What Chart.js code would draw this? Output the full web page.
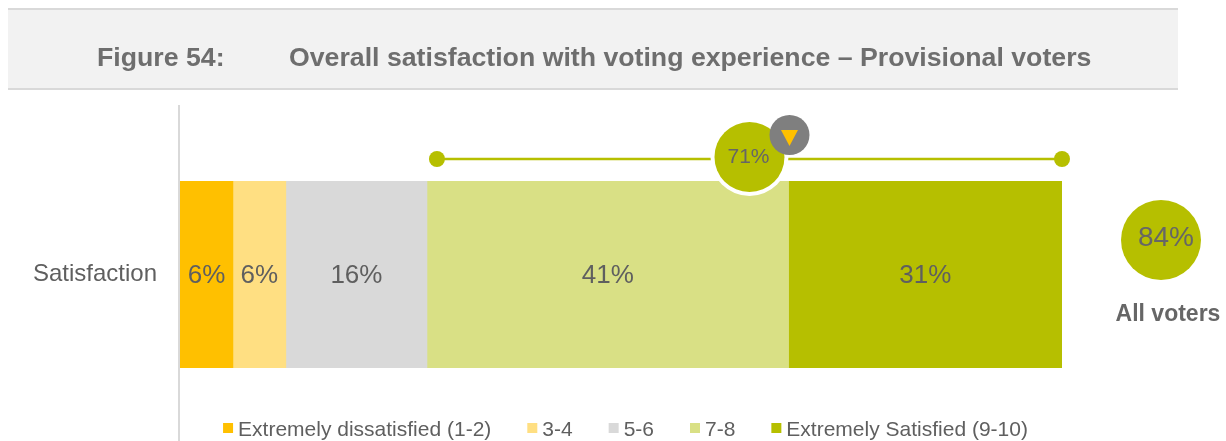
<!doctype html>
<html>
  <head>
    <meta charset="utf-8" />
    <title>Figure 54</title>
    <script src="https://cdn.jsdelivr.net/npm/chart.js@4.4.1/dist/chart.umd.min.js"></script>
    <style>
      html, body { margin: 0; padding: 0; background: #fff; }
      #wrap { width: 1226px; height: 441px; }
    </style>
    <script>
      // satisfaction scores, provisional voters
      const categories = ["Satisfaction"];
      const bands = ["Extremely dissatisfied (1-2)", "3-4", "5-6", "7-8", "Extremely Satisfied (9-10)"];
      const shares = [6, 6, 16, 41, 31];
      const topTwo = 71;       // 7-10 combined, provisional voters
      const allVoters = 84;    // 7-10 combined, all voters

      const colours = ["#FFC000", "#FFDF82", "#D9D9D9", "#D9E085", "#B6BF00"];
      const olive = "#B6BF00";
      const textGrey = "#5f5f5f";
      const FONT = "Arial, 'Liberation Sans', sans-serif";

      document.addEventListener("DOMContentLoaded", iniciar);

      function circle(ctx, x, y, r, fill) {
        ctx.beginPath();
        ctx.arc(x, y, r, 0, Math.PI * 2);
        ctx.fillStyle = fill;
        ctx.fill();
      }

      // header band, axis line, labels and the top-box callouts
      const extras = {
        id: "extras",
        beforeDraw(chart) {
          const ctx = chart.ctx;
          ctx.save();
          ctx.fillStyle = "#fff";
          ctx.fillRect(0, 0, chart.width, chart.height);
          ctx.fillStyle = "#D9D9D9";
          ctx.fillRect(8, 8, 1170, 2);
          ctx.fillRect(8, 88, 1170, 2);
          ctx.fillStyle = "#F2F2F2";
          ctx.fillRect(8, 10, 1170, 78);
          ctx.fillStyle = "#6e6e6e";
          ctx.font = "bold 26.7px " + FONT;
          ctx.textBaseline = "alphabetic";
          ctx.fillText("Figure 54:", 97, 66);
          ctx.fillText("Overall satisfaction with voting experience \u2013 Provisional voters", 289, 66);

          // y axis rule
          ctx.fillStyle = "#D9D9D9";
          ctx.fillRect(178, 105, 2, chart.height - 105);
          ctx.restore();
        },
        afterDatasetsDraw(chart) {
          const ctx = chart.ctx;
          const xs = chart.scales.x;
          ctx.save();

          // value labels inside each segment
          ctx.font = "26px " + FONT;
          ctx.fillStyle = textGrey;
          ctx.textAlign = "center";
          ctx.textBaseline = "middle";
          chart.data.datasets.forEach((ds, i) => {
            const el = chart.getDatasetMeta(i).data[0];
            ctx.fillText(ds.data[0] + "%", (el.x + el.base) / 2, el.y + 1);
          });

          // bracket over 7-8 and 9-10
          const start = shares[0] + shares[1] + shares[2];
          const x1 = xs.getPixelForValue(start) + 10;
          const x2 = xs.getPixelForValue(100);
          const ly = 159;
          ctx.strokeStyle = olive;
          ctx.lineWidth = 2.5;
          ctx.beginPath();
          ctx.moveTo(x1, ly);
          ctx.lineTo(x2, ly);
          ctx.stroke();
          circle(ctx, x1, ly, 8, olive);
          circle(ctx, x2, ly, 8, olive);

          const cx = (x1 + x2) / 2;
          const cy = 157;
          circle(ctx, cx, cy, 39, "#fff");
          circle(ctx, cx, cy, 35, olive);
          ctx.font = "21px " + FONT;
          ctx.fillStyle = "#666";
          ctx.fillText(topTwo + "%", cx - 1, cy);

          // lower than all voters marker
          const gx = cx + 40, gy = 135;
          circle(ctx, gx, gy, 20, "#7F7F7F");
          ctx.fillStyle = "#FFC000";
          ctx.beginPath();
          ctx.moveTo(gx - 8.5, gy - 5);
          ctx.lineTo(gx + 8.5, gy - 5);
          ctx.lineTo(gx, gy + 11);
          ctx.closePath();
          ctx.fill();

          // all voters comparison
          circle(ctx, 1161, 240, 40, olive);
          ctx.fillStyle = "#666";
          ctx.font = "28px " + FONT;
          ctx.fillText(allVoters + "%", 1166, 238);
          ctx.font = "bold 23px " + FONT;
          ctx.textBaseline = "alphabetic";
          ctx.fillText("All voters", 1168, 321);

          // legend
          ctx.font = "21px " + FONT;
          ctx.textAlign = "left";
          const box = 10, gapText = 5, gapItem = 36;
          const widths = bands.map((b) => box + gapText + ctx.measureText(b).width);
          const total = widths.reduce((a, b) => a + b, 0) + gapItem * (bands.length - 1);
          let lx = 625.5 - total / 2;
          bands.forEach((b, i) => {
            ctx.fillStyle = colours[i];
            ctx.fillRect(lx, 423, box, box);
            ctx.fillStyle = textGrey;
            ctx.fillText(b, lx + box + gapText, 436);
            lx += widths[i] + gapItem;
          });
          ctx.restore();
        },
      };

      function iniciar() {
        const canvas = document.getElementById("chart");
        new Chart(canvas, {
          type: "bar",
          data: {
            labels: categories,
            datasets: bands.map((b, i) => ({
              label: b,
              data: [shares[i]],
              backgroundColor: colours[i],
              borderWidth: 0,
              barPercentage: 1,
              categoryPercentage: 1,
            })),
          },
          options: {
            indexAxis: "y",
            responsive: false,
            animation: false,
            devicePixelRatio: 1,
            layout: { padding: { left: 0, right: 164, top: 181, bottom: 73 } },
            plugins: { legend: { display: false }, tooltip: { enabled: false } },
            scales: {
              x: { stacked: true, min: 0, max: 100, display: false },
              y: {
                stacked: true,
                grid: { display: false },
                border: { display: false },
                ticks: { padding: 15, color: textGrey, font: { size: 24, family: FONT } },
                afterFit(scale) {
                  scale.width = 180;
                },
              },
            },
          },
          plugins: [extras],
        });
      }
    </script>
  </head>
  <body>
    <div id="wrap">
      <canvas id="chart" width="1226" height="441"></canvas>
    </div>
  </body>
</html>
